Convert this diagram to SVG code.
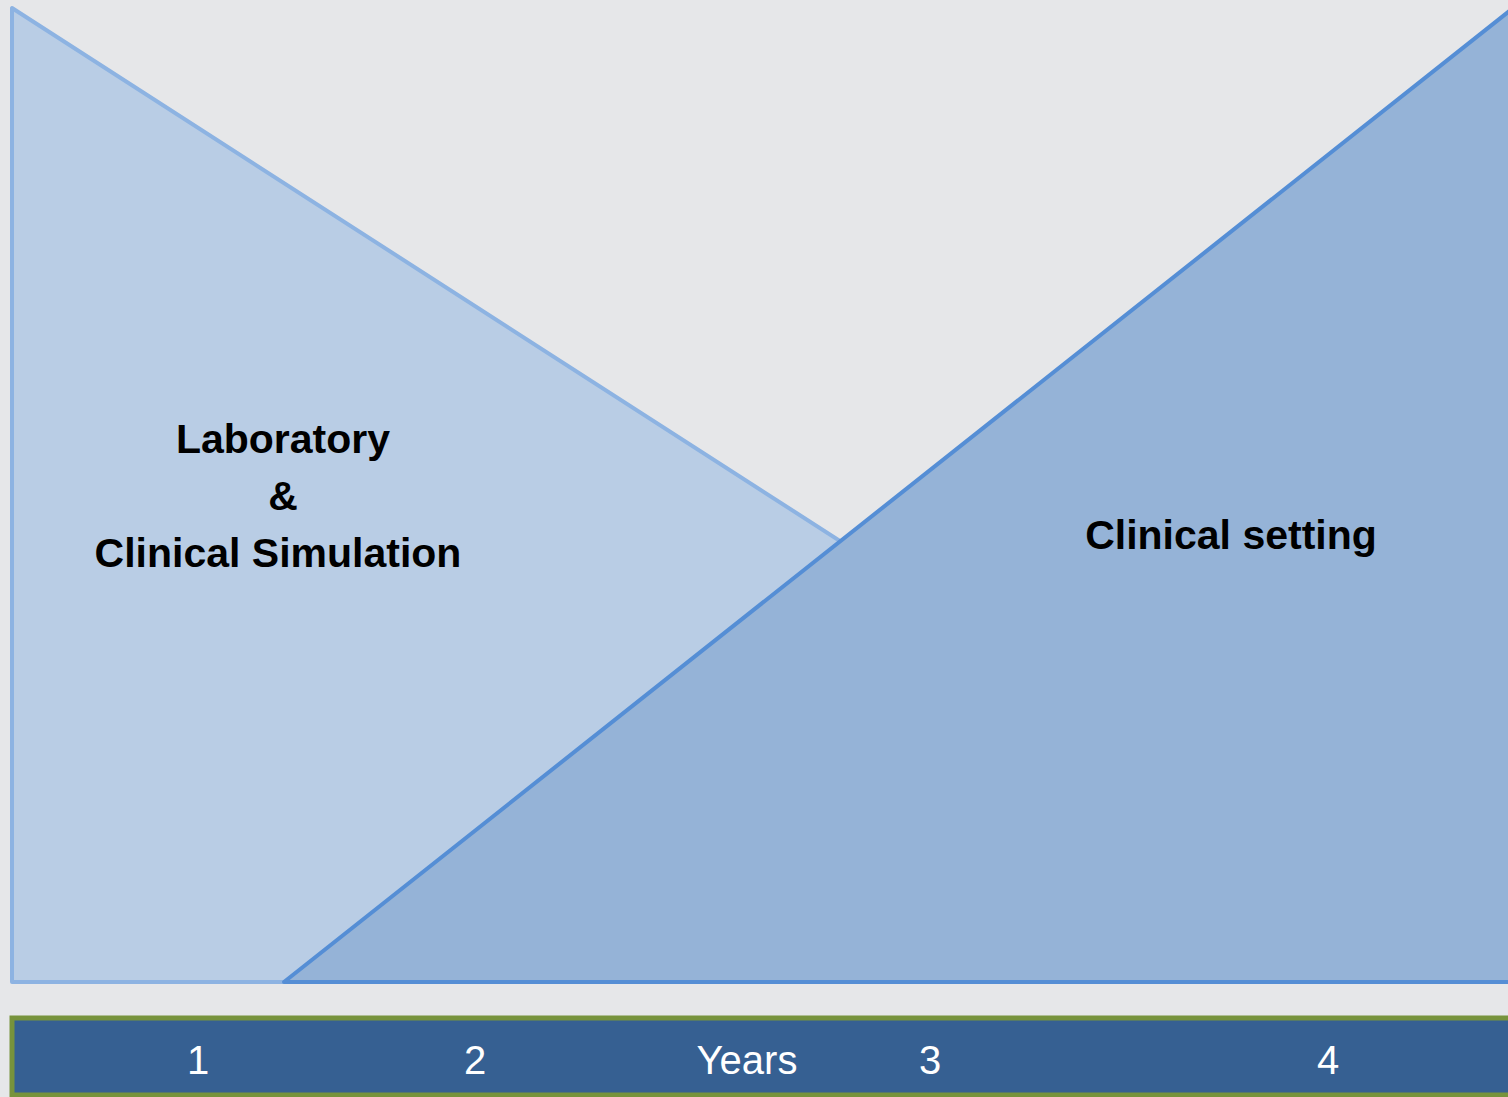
<svg xmlns="http://www.w3.org/2000/svg" width="1508" height="1097" viewBox="0 0 1508 1097">
<style>
.lbl{font-family:"Liberation Sans",Arial,sans-serif;font-weight:bold;font-size:41px;fill:#000;text-anchor:middle}
.yr{font-family:"Liberation Sans",Arial,sans-serif;font-size:40px;fill:#fff;text-anchor:middle}
</style>
<rect x="0" y="0" width="1508" height="1097" fill="#e6e7e9"/>
<g id="lab">
<polygon points="12,8 12,982 1525,982" fill="#b9cde5" stroke="#8db3e2" stroke-width="4" stroke-linejoin="round"/>
<text class="lbl" x="283" y="453">Laboratory</text>
<text class="lbl" x="283" y="510">&amp;</text>
<text class="lbl" x="278" y="567">Clinical Simulation</text>
</g>
<g id="clin">
<polygon points="284,982 1512,9 1512,982" fill="#95b3d7" stroke="#558ed5" stroke-width="4" stroke-linejoin="round"/>
<text class="lbl" x="1231" y="549">Clinical setting</text>
</g>
<g id="years">
<rect x="12" y="1018" width="1510" height="77" fill="#366092" stroke="#77933c" stroke-width="5"/>
<text class="yr" x="198" y="1074">1</text>
<text class="yr" x="475" y="1074">2</text>
<text class="yr" x="747" y="1074">Years</text>
<text class="yr" x="930" y="1074">3</text>
<text class="yr" x="1328" y="1074">4</text>
</g>
<g id="connectors"></g>
</svg>
